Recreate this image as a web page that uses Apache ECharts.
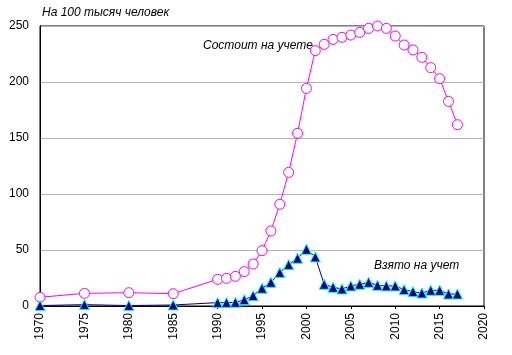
<!DOCTYPE html>
<html><head><meta charset="utf-8">
<script src="https://cdn.jsdelivr.net/npm/echarts@6/dist/echarts.min.js"></script>
<style>html,body{margin:0;padding:0;background:#fff}#c{width:512px;height:355px}</style>
</head><body><div id="c"></div>
<script>
const years = [1970,1975,1980,1985,1990,1991,1992,1993,1994,1995,1996,1997,1998,1999,2000,2001,2002,2003,2004,2005,2006,2007,2008,2009,2010,2011,2012,2013,2014,2015,2016,2017];
const registered = [7.8,11.3,11.9,11,23.8,24.7,26.5,30.7,37.5,49.4,67,90.8,119.3,154.2,194.3,228,233.6,238,239.9,241.9,244.3,247.9,250,247.9,241,233,228.6,222,212.8,203,182.7,161.9];
const newlyTaken = [0.4,1.2,0.4,0.9,3,3,3.3,5.6,9.2,15.8,21.1,29.8,36.9,42.6,50.6,43.8,19.4,16.7,15.2,17.9,19.4,21.1,18.5,17.9,17.9,14.6,12.8,11.6,14,14,10.7,10.7];
const yTicks = [0,50,100,150,200,250];
const font = '"Liberation Sans", Arial, sans-serif';
const chart = echarts.init(document.getElementById('c'), null, {renderer:'canvas'});
chart.setOption({
  animation:false,
  backgroundColor:'#fff',
  grid:{left:40,right:28,top:26,bottom:49,show:true,borderColor:'#000',borderWidth:1,containLabel:false},
  xAxis:{type:'value',min:1970,max:2020,interval:5,
    axisLine:{show:true,lineStyle:{color:'#000',width:1}},
    axisTick:{show:true,length:3,inside:false,lineStyle:{color:'#000'}},splitLine:{show:false},
    axisLabel:{rotate:90,color:'#000',fontFamily:font,fontSize:12,margin:7,formatter:v=>String(v)}},
  yAxis:{type:'value',min:yTicks[0],max:yTicks[yTicks.length-1],interval:50,
    axisLine:{show:true,lineStyle:{color:'#000',width:1}},
    axisTick:{show:false},
    splitLine:{show:true,lineStyle:{color:'#b4b4b4',width:1}},
    axisLabel:{color:'#000',fontFamily:font,fontSize:12,margin:11,formatter:v=>String(v)}},
  series:[
    {type:'line',data:years.map((y,i)=>[y,registered[i]]),
     lineStyle:{color:'#ff00ff',width:1},symbol:'circle',symbolSize:10,
     itemStyle:{color:'#fff',borderColor:'#ff00ff',borderWidth:1},z:2},
    {type:'line',data:years.map((y,i)=>[y,newlyTaken[i]]),
     lineStyle:{color:'#000080',width:1},symbol:'triangle',symbolSize:10,
     itemStyle:{color:'#000080',borderColor:'#00ffff',borderWidth:1},z:3}
  ],
  graphic:[
    {type:'text',left:42,top:7,style:{text:'На 100 тысяч человек',font:'italic 12px '+font,fill:'#000'}},
    {type:'text',left:203,top:40,style:{text:'Состоит на учете',font:'italic 12px '+font,fill:'#000'}},
    {type:'text',left:374,top:260,style:{text:'Взято на учет',font:'italic 12px '+font,fill:'#000'}}
  ]
});
</script></body></html>
